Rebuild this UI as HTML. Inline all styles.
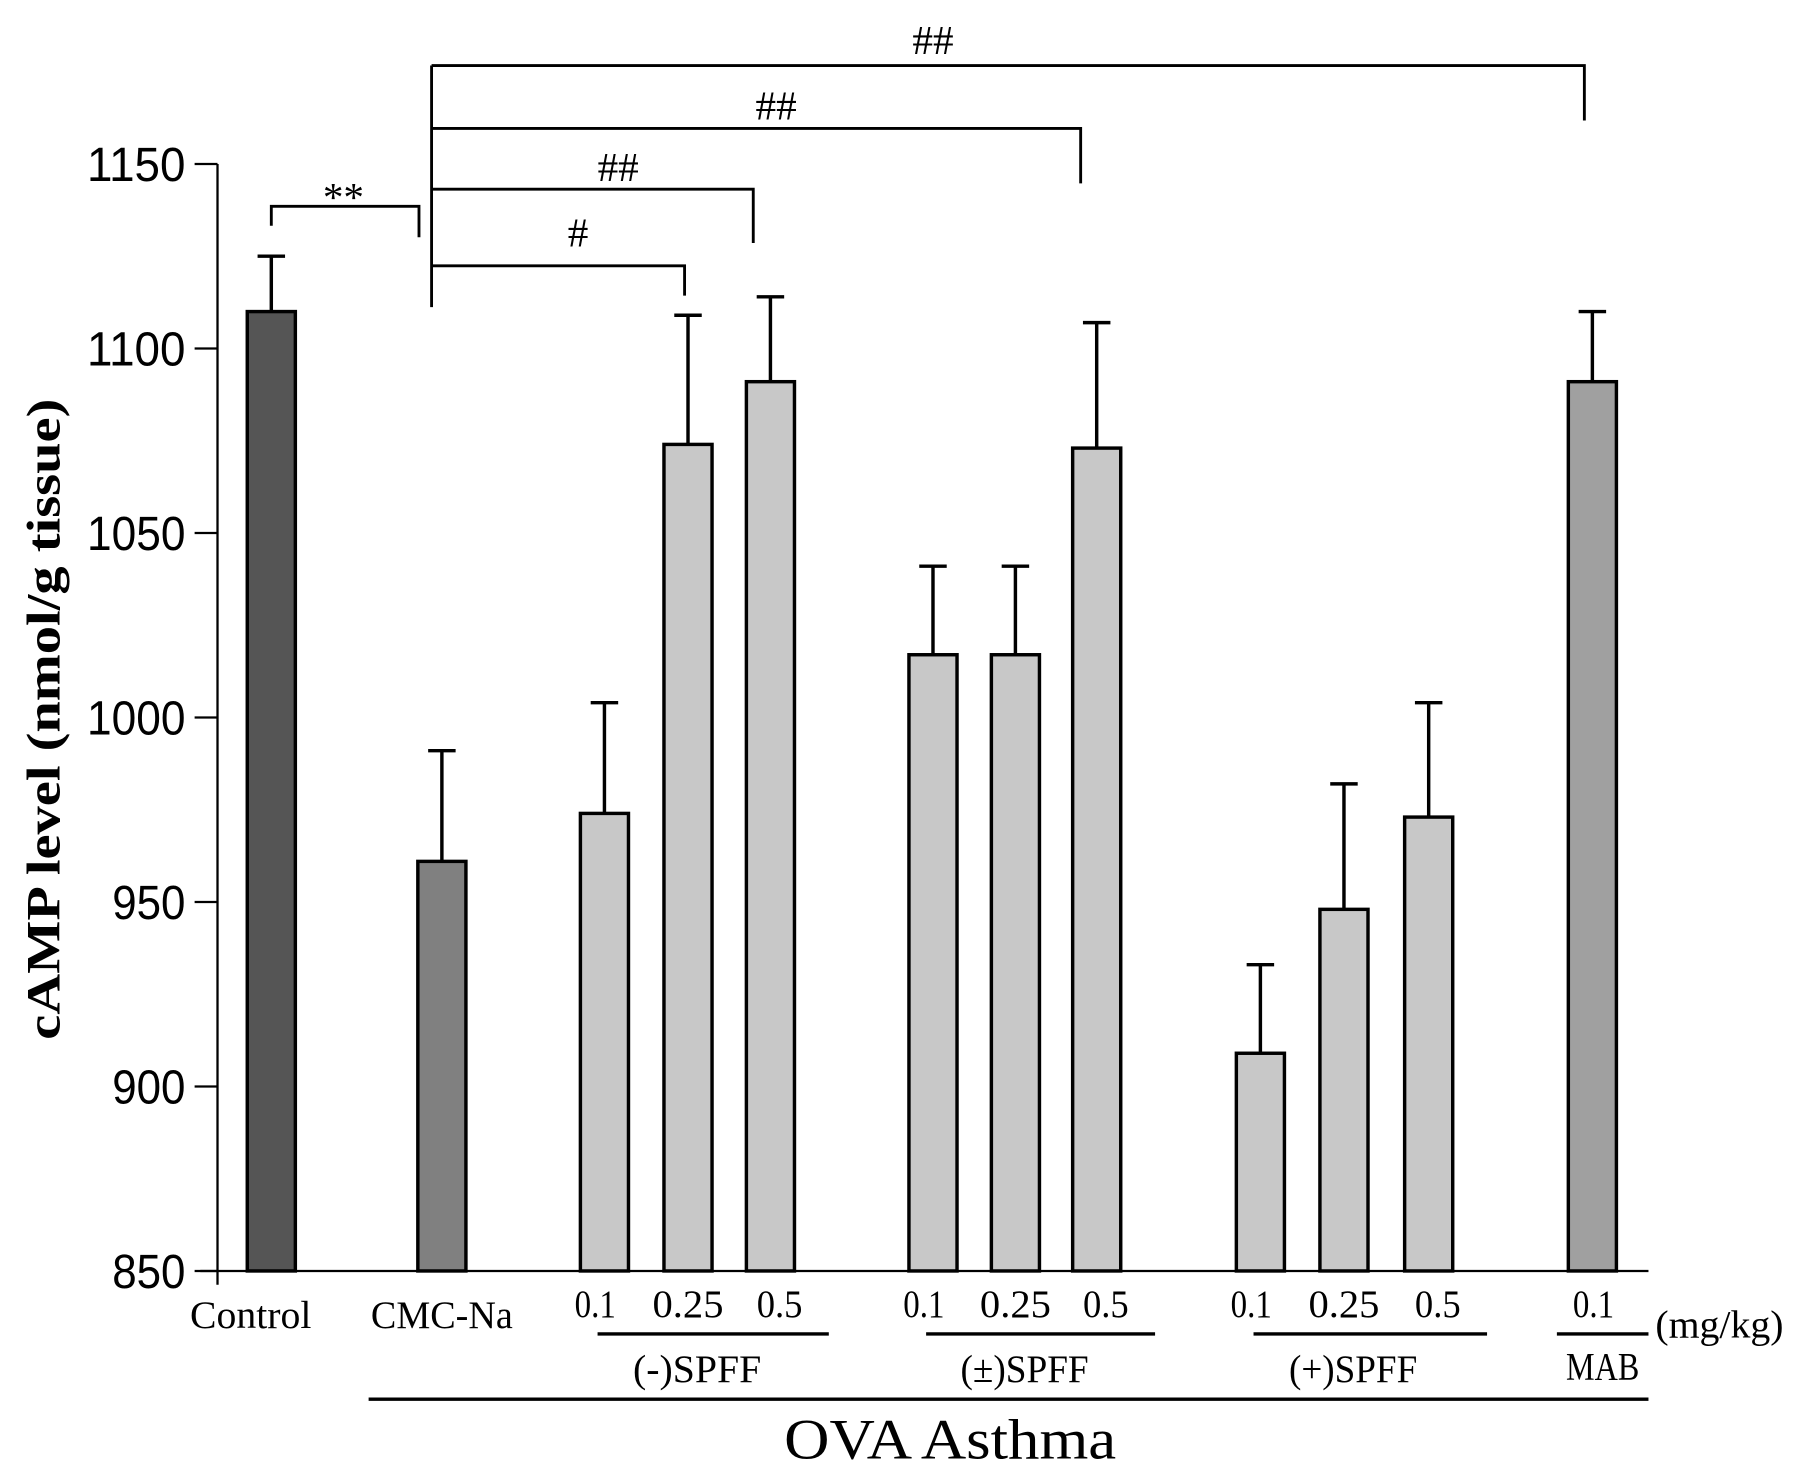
<!DOCTYPE html>
<html><head><meta charset="utf-8"><style>body{margin:0;background:#fff}svg{display:block}</style></head>
<body>
<svg width="1795" height="1475" viewBox="0 0 1568 1288" xmlns="http://www.w3.org/2000/svg">
<g id="axes"></g>
<g id="bars"></g>
<g id="sig"></g>
<g id="labels" font-family="Liberation Serif, serif" font-size="34" text-anchor="middle">
<text x="219" y="1160" textLength="106" lengthAdjust="spacingAndGlyphs">Control</text>
<text x="386" y="1160" textLength="124" lengthAdjust="spacingAndGlyphs">CMC-Na</text>
<text x="1392" y="1150" textLength="36" lengthAdjust="spacingAndGlyphs">0.1</text>
<line x1="1360" y1="1165" x2="1440" y2="1165" stroke="#000" stroke-width="3"/>
<text x="1400" y="1205" textLength="64" lengthAdjust="spacingAndGlyphs">MAB</text>
<text x="1502" y="1168" textLength="112" lengthAdjust="spacingAndGlyphs">(mg/kg)</text>
<line x1="322" y1="1222" x2="1440" y2="1222" stroke="#000" stroke-width="3"/>
<text x="830" y="1274" font-size="50" textLength="290" lengthAdjust="spacingAndGlyphs">OVA Asthma</text>
</g>
<text transform="translate(52,628) rotate(-90)" text-anchor="middle" font-family="Liberation Serif, serif" font-weight="bold" font-size="42" textLength="560" lengthAdjust="spacingAndGlyphs">cAMP level (nmol/g tissue)</text>
<script>
const categories=["Control","CMC-Na","(-)SPFF 0.1","(-)SPFF 0.25","(-)SPFF 0.5","(±)SPFF 0.1","(±)SPFF 0.25","(±)SPFF 0.5","(+)SPFF 0.1","(+)SPFF 0.25","(+)SPFF 0.5","MAB 0.1"];
const values=[1110,961,974,1074,1091,1017,1017,1073,909,948,973,1091];
const errors=[15,30,30,35,23,24,24,34,24,34,31,19];
const yTicks=[850,900,950,1000,1050,1100,1150];
const groupLabels=["(-)SPFF","(±)SPFF","(+)SPFF"];
const doseLabels=["0.1","0.25","0.5"];
const NS="http://www.w3.org/2000/svg";
const barLeft=[216,365,507,580,652,794,866,937,1080,1153,1227,1370];
const barW=42;
const fills=["#555","#808080","#c8c8c8","#c8c8c8","#c8c8c8","#c8c8c8","#c8c8c8","#c8c8c8","#c8c8c8","#c8c8c8","#c8c8c8","#a0a0a0"];
const doseW=[36,62,40];
function y(v){return 1110-(v-850)*(967/300);}
function mk(tag,attrs,parent){const e=document.createElementNS(NS,tag);for(const k in attrs)e.setAttribute(k,attrs[k]);parent.appendChild(e);return e;}
const ax=document.getElementById('axes');
let l=mk('line',{x1:190,y1:y(1150),x2:190,y2:1122,stroke:'#000','stroke-width':2},ax);


l=mk('line',{x1:175,y1:1110,x2:1440,y2:1110,stroke:'#000','stroke-width':2},ax);


yTicks.forEach(t=>{
 const tk=mk('line',{x1:170,y1:y(t),x2:190,y2:y(t),stroke:'#000','stroke-width':2},ax);
 
 
 const tx=mk('text',{x:162,y:y(t)+15,'text-anchor':'end','font-family':'Liberation Sans, sans-serif','font-size':42,textLength:t>=1000?86:64,lengthAdjust:'spacingAndGlyphs'},ax);
 tx.textContent=t;
 
 
});
const bg=document.getElementById('bars');
values.forEach((v,i)=>{
 const x0=barLeft[i];
 const r=mk('rect',{x:x0,y:y(v),width:barW,height:1110-y(v),fill:fills[i],stroke:'#000','stroke-width':3},bg);
 
 
 const cx=x0+barW/2;
 const e=mk('path',{d:`M${cx},${y(v)} V${y(v+errors[i])} M${cx-12},${y(v+errors[i])} H${cx+12}`,stroke:'#000','stroke-width':3,fill:'none'},bg);
 
 
});
const lb=document.getElementById('labels');
for(let g=0;g<3;g++){
 const b=2+g*3;
 for(let d=0;d<3;d++){
  const tx=mk('text',{x:barLeft[b+d]+barW/2+(d-1)*8,y:1150,textLength:doseW[d],lengthAdjust:'spacingAndGlyphs'},lb);
  tx.textContent=doseLabels[d];
  
  
 }
 const ln=mk('line',{x1:barLeft[b]+15,y1:1165,x2:barLeft[b+2]+barW+30,y2:1165,stroke:'#000','stroke-width':3},lb);
 
 
 const gt=mk('text',{x:barLeft[b+1]+barW/2+8,y:1207,textLength:112,lengthAdjust:'spacingAndGlyphs'},lb);
 gt.textContent=groupLabels[g];
 
 
}
const sg=document.getElementById('sig');
function br(d,tx,txx,txy,name){
 const p=mk('path',{d:d,stroke:'#000','stroke-width':2.5,fill:'none'},sg);
 
 
 const t=mk('text',{x:txx,y:txy,'text-anchor':'middle','font-family':'Liberation Serif, serif','font-size':36},sg);
 t.textContent=tx;
 
 
}
br('M237,197 V180 H366 V207','**',300,184,'bracket-control-cmc');
mk('line',{x1:377,y1:57,x2:377,y2:268,stroke:'#000','stroke-width':2.5},sg);
br('M377,232 H598 V258','#',505,215,'bracket-spff-minus-01');
br('M377,165 H658 V212','##',540,158,'bracket-spff-minus-025');
br('M377,112 H944 V160','##',678,104,'bracket-spff-pm-05');
br('M377,57 H1384 V105','##',815,47,'bracket-mab');
</script>
</svg>
</body></html>
